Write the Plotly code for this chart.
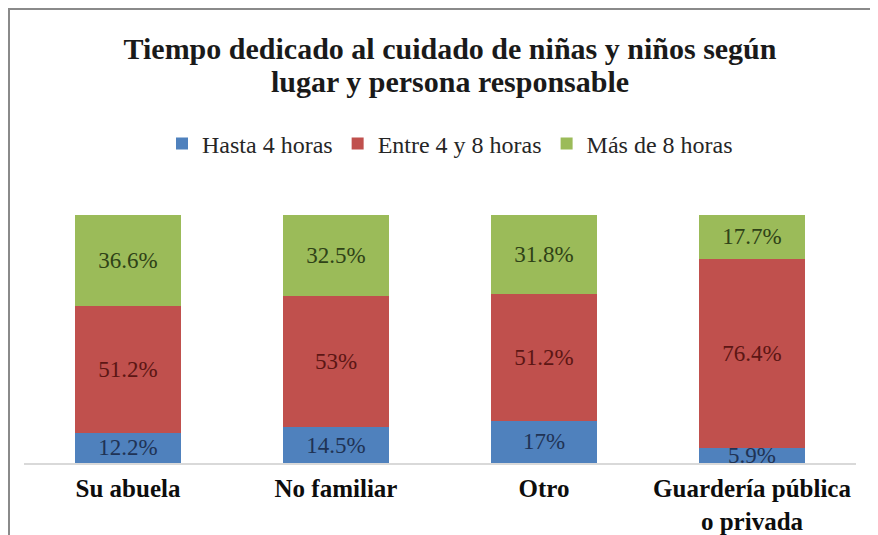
import plotly.graph_objects as go

categories = ["Su abuela", "No familiar", "Otro", "Guardería pública<br>o privada"]
series_names = ["Hasta 4 horas", "Entre 4 y 8 horas", "Más de 8 horas"]
hasta4 = [12.2, 14.5, 17, 5.9]
entre4y8 = [51.2, 53, 51.2, 76.4]
mas8 = [36.6, 32.5, 31.8, 17.7]
bar_colors = ["#4f81bd", "#c0504d", "#9bbb59"]
label_colors = ["#1f3355", "#5c1614", "#2f4217"]
title_lines = ["Tiempo dedicado al cuidado de niñas y niños según", "lugar y persona responsable"]

SERIF = "Liberation Serif, Times New Roman, serif"

# the page body adds an 8px offset; work in window pixels and convert
OFF = 8
W, H = 878 - OFF, 535 - OFF
L = 24 - OFF
R = W - (856 - OFF)
T = 215 - OFF
B = H - (463 - OFF)
pw, ph = W - L - R, H - T - B

def px_x(x):
    return (x - OFF - L) / pw

def px_y(y):
    return (H - B - (y - OFF)) / ph

fig = go.Figure()
for name, vals, col, lcol in zip(series_names, [hasta4, entre4y8, mas8], bar_colors, label_colors):
    fig.add_trace(go.Bar(
        x=categories, y=vals, name=name,
        marker=dict(color=col, line=dict(width=0)),
        text=[f"{v:g}%" for v in vals],
        textposition="inside", insidetextanchor="middle",
        constraintext="none",
        textfont=dict(family=SERIF, size=23, color=lcol),
        width=0.505,
    ))

fig.update_layout(
    width=W, height=H,
    margin=dict(l=L, r=R, t=T, b=B, pad=0, autoexpand=False),
    barmode="stack",
    plot_bgcolor="white", paper_bgcolor="white",
    font=dict(family=SERIF, color="#1a1a1a"),
    title=dict(
        text="<b>" + title_lines[0] + "</b>",
        x=(450 - OFF) / W, xanchor="center",
        y=1 - (48 - OFF) / H, yanchor="middle",
        font=dict(family=SERIF, size=30, color="#1a1a1a"),
    ),
    annotations=[dict(
        text="<b>" + title_lines[1] + "</b>",
        xref="paper", yref="paper", x=px_x(450), y=px_y(81),
        xanchor="center", yanchor="middle", showarrow=False,
        font=dict(family=SERIF, size=30, color="#1a1a1a"),
    )],
    showlegend=True,
    legend=dict(
        orientation="h", traceorder="normal",
        x=px_x(450), xanchor="center",
        y=px_y(144), yanchor="middle",
        font=dict(family=SERIF, size=24, color="#262626"),
        bgcolor="rgba(0,0,0,0)",
        itemwidth=30,
    ),
    xaxis=dict(
        showline=True, linecolor="#d9d9d9", linewidth=2,
        ticks="", showgrid=False, automargin=False,
        tickfont=dict(family=SERIF, size=25, color="#0d0d0d"),
        ticklabelstandoff=2,
    ),
    yaxis=dict(range=[0, 100], visible=False, showgrid=False, automargin=False),
    shapes=[dict(
        type="rect", xref="paper", yref="paper",
        x0=px_x(9), x1=px_x(900), y0=px_y(560), y1=px_y(9),
        line=dict(color="#8a8a8a", width=2), fillcolor="rgba(0,0,0,0)",
        layer="above",
    )],
)
fig.update_xaxes(tickprefix="<b>", ticksuffix="</b>")

fig.write_html("out.html")
